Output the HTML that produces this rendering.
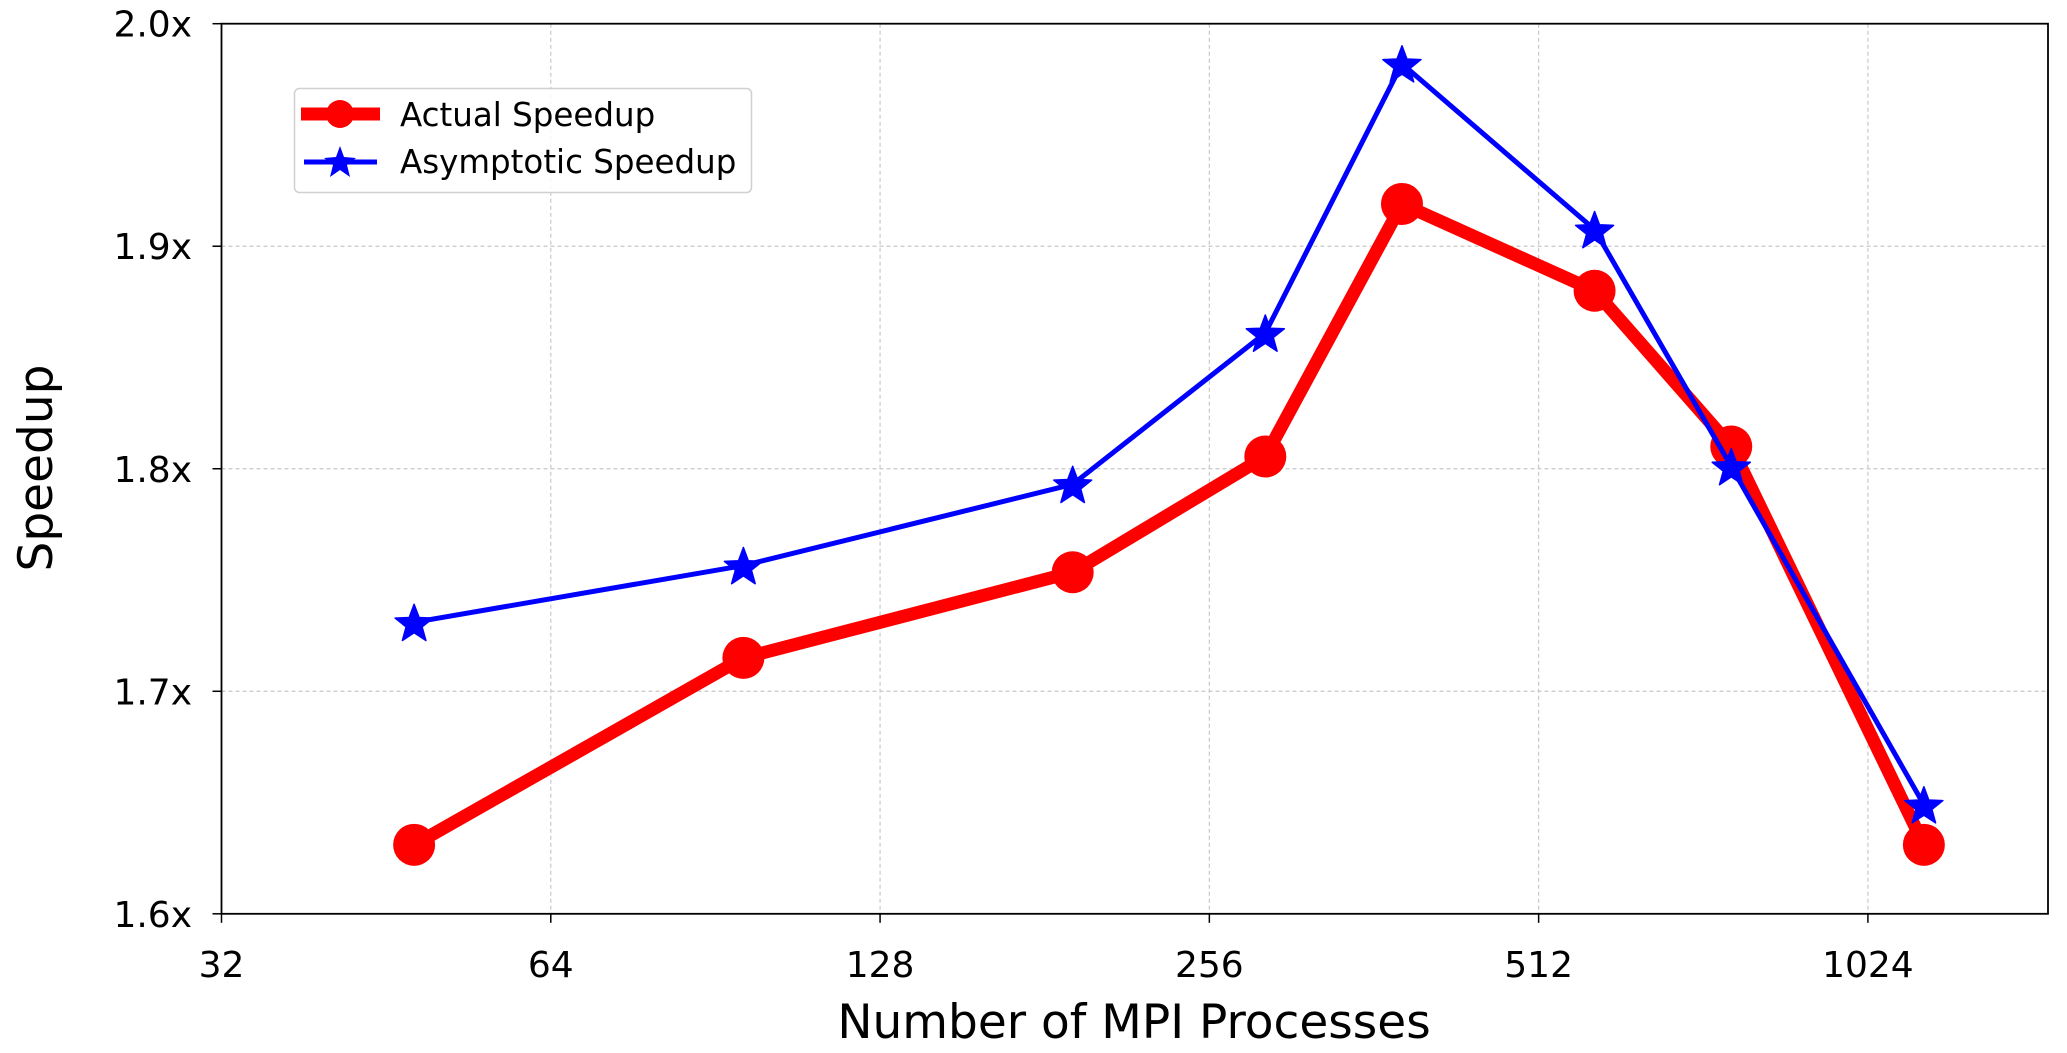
<!DOCTYPE html>
<html><head><meta charset="utf-8"><style>
html,body{margin:0;padding:0;background:#fff;}
svg{display:block;font-family:"DejaVu Sans","Liberation Sans",sans-serif;}
</style></head><body>
<svg id="chart" width="2067" height="1053" viewBox="0 0 2067 1053" xmlns="http://www.w3.org/2000/svg"></svg>
<script>
const procs = [48, 96, 192, 288, 384, 576, 768, 1152];
const actualSpeedup = [1.631, 1.715, 1.7535, 1.8055, 1.919, 1.880, 1.810, 1.631];
const asymptoticSpeedup = [1.731, 1.7565, 1.793, 1.861, 1.982, 1.9075, 1.801, 1.649];
const xTicks = [32, 64, 128, 256, 512, 1024];
const yTicks = [1.6, 1.7, 1.8, 1.9, 2.0];
const yTickLabels = ["1.6x", "1.7x", "1.8x", "1.9x", "2.0x"];

const L = 221.5, R = 2048, T = 23.7, B = 913.8;
const xMin = 32, xMax = 1496, yMin = 1.6, yMax = 2.0;
const NS = "http://www.w3.org/2000/svg";
const svg = document.getElementById('chart');
function xs(v){ return L + (Math.log2(v) - Math.log2(xMin)) / (Math.log2(xMax) - Math.log2(xMin)) * (R - L); }
function ys(v){ return B - (v - yMin) / (yMax - yMin) * (B - T); }
function mk(tag, attrs, parent){
  const e = document.createElementNS(NS, tag);
  for (const k in attrs) e.setAttribute(k, attrs[k]);
  (parent || svg).appendChild(e);
  return e;
}
xTicks.forEach(t => {
  const g = mk('line', {x1: xs(t), x2: xs(t), y1: T, y2: B, stroke: '#c8c8c8', 'stroke-width': 1.2, 'stroke-dasharray': '4,3'});
  
  
  const tk = mk('line', {x1: xs(t), x2: xs(t), y1: B, y2: B + 9, stroke: '#000', 'stroke-width': 1.5});
  
  
  const tx = mk('text', {x: xs(t), y: 977, 'text-anchor': 'middle', 'font-size': 36, fill: '#000'});
  tx.textContent = t;
  
  
});
yTicks.forEach((t, i) => {
  const g = mk('line', {x1: L, x2: R, y1: ys(t), y2: ys(t), stroke: '#c8c8c8', 'stroke-width': 1.2, 'stroke-dasharray': '4,3'});
  
  
  const tk = mk('line', {x1: L - 9, x2: L, y1: ys(t), y2: ys(t), stroke: '#000', 'stroke-width': 1.5});
  
  
  const tx = mk('text', {x: 192, y: ys(t) + 13, 'text-anchor': 'end', 'font-size': 36, fill: '#000'});
  tx.textContent = yTickLabels[i];
  
  
});
const frame = mk('rect', {x: L, y: T, width: R - L, height: B - T, fill: 'none', stroke: '#000', 'stroke-width': 1.8});



function star(cx, cy, r){
  let p = [];
  for (let i = 0; i < 10; i++){
    const a = -Math.PI/2 + i*Math.PI/5;
    const rr = i % 2 ? r*0.42 : r;
    p.push((cx + rr*Math.cos(a)).toFixed(1) + ',' + (cy + rr*Math.sin(a)).toFixed(1));
  }
  return p.join(' ');
}
const rp = mk('polyline', {points: procs.map((p, i) => xs(p) + ',' + ys(actualSpeedup[i])).join(' '), fill: 'none', stroke: '#ff0000', 'stroke-width': 13, 'stroke-linejoin': 'round'});


procs.forEach((p, i) => {
  const c = mk('circle', {cx: xs(p), cy: ys(actualSpeedup[i]), r: 21, fill: '#ff0000'});
  
  
});
const bp = mk('polyline', {points: procs.map((p, i) => xs(p) + ',' + ys(asymptoticSpeedup[i])).join(' '), fill: 'none', stroke: '#0000ff', 'stroke-width': 5, 'stroke-linejoin': 'round'});


procs.forEach((p, i) => {
  const s = mk('polygon', {points: star(xs(p), ys(asymptoticSpeedup[i]) + 2, 20), fill: '#0000ff', stroke: '#0000ff', 'stroke-width': 1.5, 'stroke-linejoin': 'round'});
  
  
});
</script>
<svg style="position:absolute;left:0;top:0" width="2067" height="1053">
  <g font-family="DejaVu Sans, Liberation Sans, sans-serif">
    <rect x="294.5" y="88.5" width="457" height="104" rx="5" fill="#fff" fill-opacity="0.85" stroke="#d0d0d0" stroke-width="1.5"/>
    <line x1="301" y1="114" x2="380" y2="114" stroke="#ff0000" stroke-width="13"/>
    <circle cx="340" cy="114" r="14" fill="#ff0000"/>
    <text x="400" y="126" font-size="32.5" fill="#000">Actual Speedup</text>
    <line x1="304" y1="162" x2="377" y2="162" stroke="#0000ff" stroke-width="5"/>
    <polygon points="340,146 344,157 356,158 347,165 350,177 340,170 330,177 333,165 324,158 336,157" fill="#0000ff"/>
    <text x="400" y="173" font-size="32.5" fill="#000">Asymptotic Speedup</text>
  </g>
  <text x="1134" y="1038" text-anchor="middle" font-size="47" font-family="DejaVu Sans, Liberation Sans, sans-serif">Number of MPI Processes</text>
  <text x="0" y="0" transform="translate(52,468) rotate(-90)" text-anchor="middle" font-size="47" font-family="DejaVu Sans, Liberation Sans, sans-serif">Speedup</text>
</svg>
</body></html>
